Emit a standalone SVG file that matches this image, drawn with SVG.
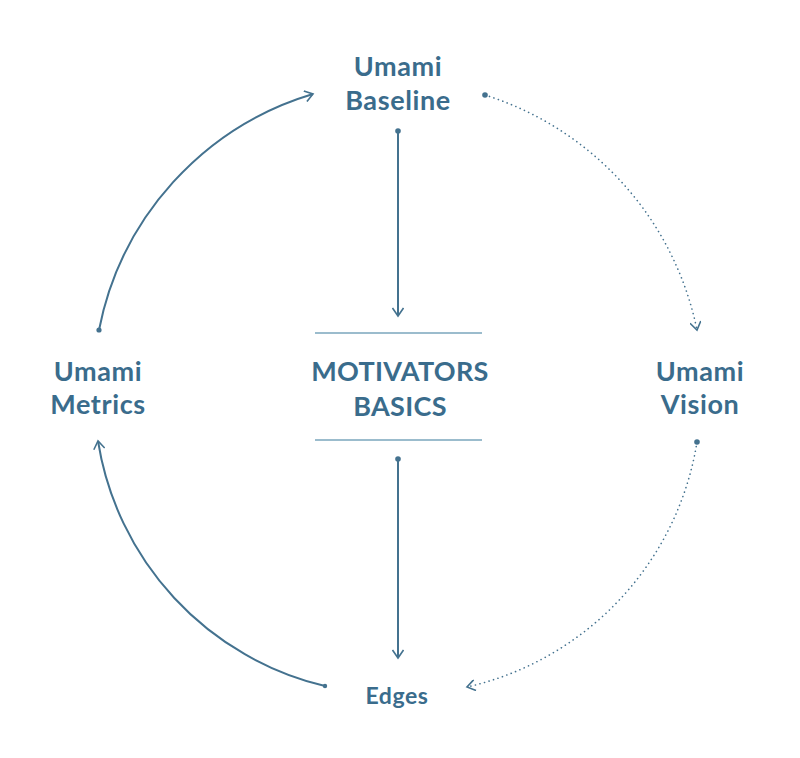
<svg xmlns="http://www.w3.org/2000/svg" width="800" height="758" viewBox="0 0 800 758">
<style>
.lbl{font-family:Lato,"Open Sans","Liberation Sans",sans-serif;font-weight:700;fill:#3a6c8c;text-anchor:middle;letter-spacing:0.6px}
.solid{fill:none;stroke:#44728f;stroke-width:2}
.dot{fill:none;stroke:#44728f;stroke-width:1.6;stroke-dasharray:0.1 4.6;stroke-linecap:round}
.rule{stroke:#9bbccd;stroke-width:2.2}
.cap{fill:#44728f}
</style>
<defs>
<marker id="arr" viewBox="-10 -6 12 12" markerWidth="12" markerHeight="12" refX="0" refY="0" orient="auto" markerUnits="userSpaceOnUse">
<path d="M-8,-5.5 L0,0 L-8,5.5" fill="none" stroke="#44728f" stroke-width="1.6"/>
</marker>
</defs>
<rect width="800" height="758" fill="#ffffff"/>
<g id="connectors">
<path class="solid" d="M99,330 A308,308 0 0 1 313,94" marker-end="url(#arr)"/>
<circle class="cap" cx="99" cy="330" r="2.6"/>
<path class="dot" d="M485,95 A312,312 0 0 1 697,330" marker-end="url(#arr)"/>
<circle class="cap" cx="485" cy="95" r="2.8"/>
<path class="dot" d="M697,442 A300,300 0 0 1 467,687" marker-end="url(#arr)"/>
<circle class="cap" cx="697" cy="442" r="2.8"/>
<path class="solid" d="M325,686 A300,300 0 0 1 98,441" marker-end="url(#arr)"/>
<circle class="cap" cx="325" cy="686" r="2.2"/>
<line class="solid" x1="398" y1="131" x2="398" y2="316" marker-end="url(#arr)"/>
<circle class="cap" cx="398" cy="131" r="2.8"/>
<line class="solid" x1="398" y1="459" x2="398" y2="658" marker-end="url(#arr)"/>
<circle class="cap" cx="398" cy="459" r="2.8"/>
</g>
<g id="node-baseline">
<text class="lbl" x="398" y="76" font-size="27">Umami</text>
<text class="lbl" x="398" y="110" font-size="27">Baseline</text>
</g>
<g id="node-motivators">
<line class="rule" x1="315" y1="333" x2="482" y2="333"/>
<text class="lbl" x="400" y="381" font-size="27" style="letter-spacing:0.3px">MOTIVATORS</text>
<text class="lbl" x="400" y="416" font-size="27" style="letter-spacing:0.3px">BASICS</text>
<line class="rule" x1="315" y1="440" x2="482" y2="440"/>
</g>
<g id="node-metrics">
<text class="lbl" x="98" y="381" font-size="27">Umami</text>
<text class="lbl" x="98" y="414" font-size="27">Metrics</text>
</g>
<g id="node-vision">
<text class="lbl" x="700" y="381" font-size="27">Umami</text>
<text class="lbl" x="700" y="414" font-size="27">Vision</text>
</g>
<g id="node-edges">
<text class="lbl" x="397" y="704" font-size="23">Edges</text>
</g>
</svg>
